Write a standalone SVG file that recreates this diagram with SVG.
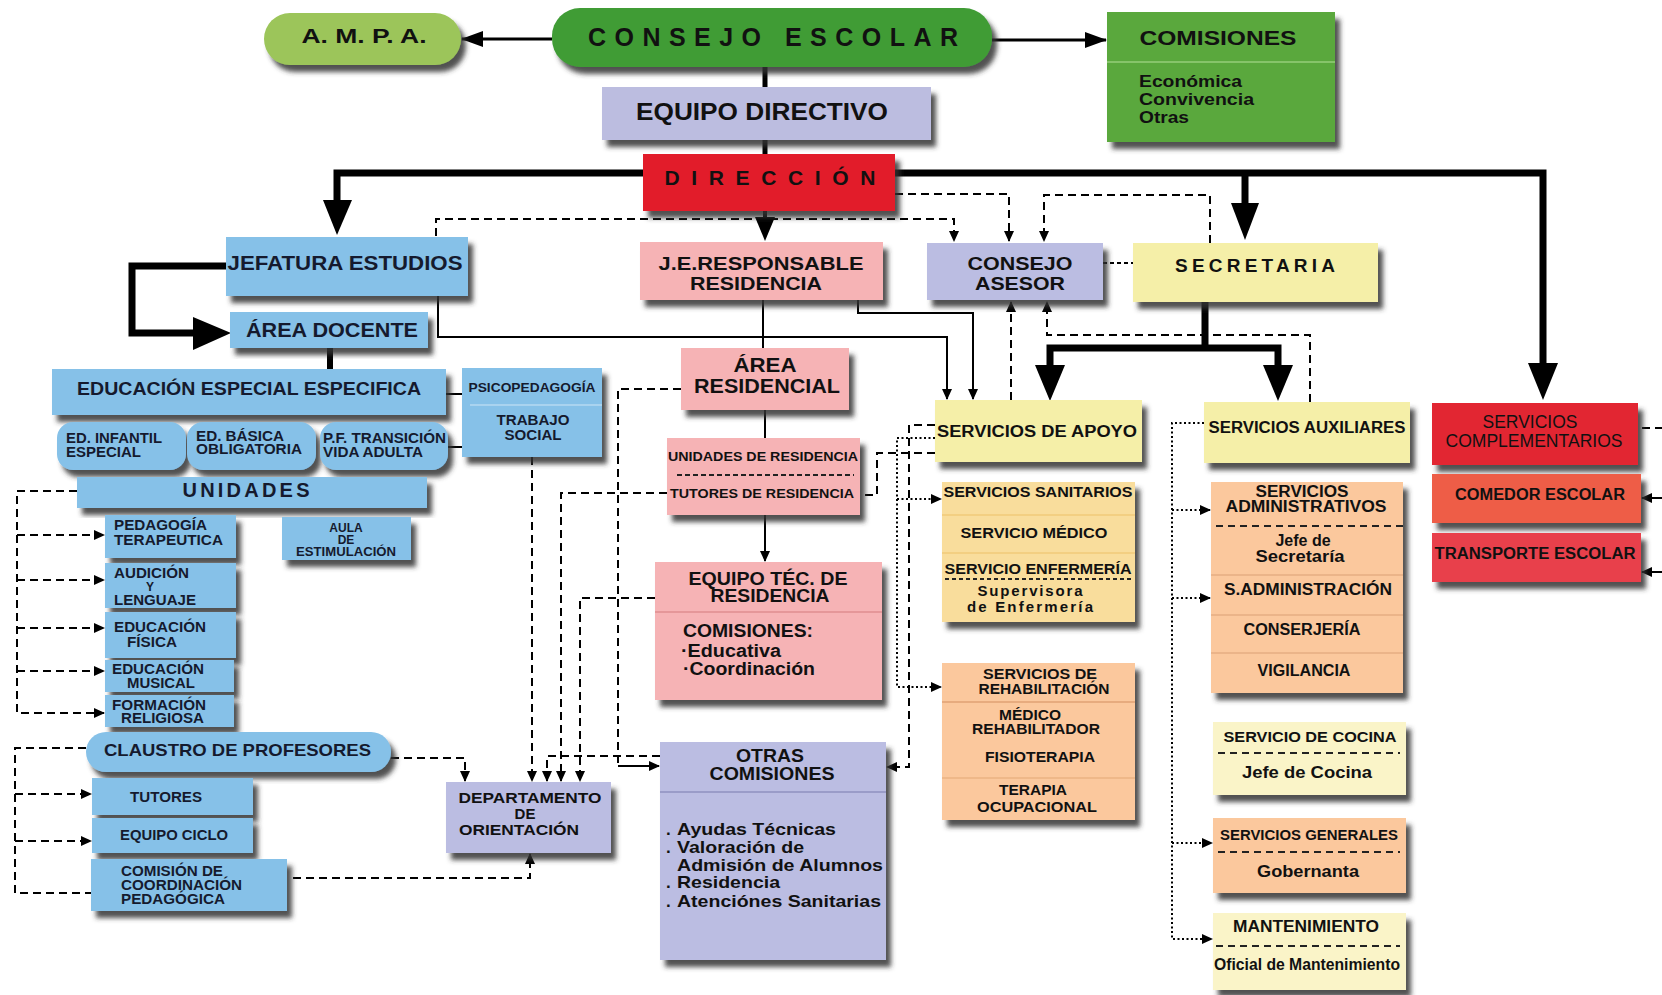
<svg xmlns="http://www.w3.org/2000/svg" width="1662" height="995" viewBox="0 0 1662 995">
<style>
text { font-family: "Liberation Sans", Arial, Helvetica, sans-serif; font-weight: bold; fill: #111; text-anchor: middle; }
.l { text-anchor: start; }
.n { font-weight: normal; }
.bt { fill: #151a2e; }
.sh { filter: url(#shadow); }
.thick { stroke: #000; stroke-width: 7; fill: none; stroke-linejoin: miter; }
.thin { stroke: #000; stroke-width: 2; fill: none; }
.dash { stroke: #000; stroke-width: 2; fill: none; stroke-dasharray: 8 5; }
.dot { stroke: #000; stroke-width: 2; fill: none; stroke-dasharray: 2 2.5; }
.div { stroke-width: 2; fill: none; }
.idash { stroke: #222; stroke-width: 2; stroke-dasharray: 7 5; fill: none; }
.blue { fill: #86c1e8; }
.pink { fill: #f6b3b5; }
.lav { fill: #bbbde2; }
.yel { fill: #f5efa8; }
.san { fill: #f9dd9c; }
.pea { fill: #fbc89d; }
.pale { fill: #faf4c8; }
</style>
<defs>
<filter id="shadow" x="-10%" y="-15%" width="125%" height="145%">
<feDropShadow dx="5" dy="7" stdDeviation="2.5" flood-color="#333" flood-opacity="0.85"/>
</filter>
<marker id="ar" markerUnits="userSpaceOnUse" markerWidth="11" markerHeight="10" refX="10" refY="5" orient="auto">
<path d="M0,0 L11,5 L0,10 z" fill="#000"/>
</marker>
<marker id="arB" markerUnits="userSpaceOnUse" markerWidth="22" markerHeight="16" refX="21" refY="8" orient="auto">
<path d="M0,0 L22,8 L0,16 z" fill="#000"/>
</marker>
</defs>

<g id="connectors">
<path class="thick" d="M337 205 V173 H1543 V370"/>
<polygon points="323,200 352,200 337,235"/>
<polygon points="1528,363 1558,363 1543,400"/>
<path class="thick" d="M1245 173 V208"/>
<polygon points="1231,203 1259,203 1245,240"/>
<path class="thick" d="M226 266 H132 V333 H196"/>
<polygon points="193,317 193,350 231,333"/>
<path class="thick" d="M330 348 V369" style="stroke-width:6"/>
<path class="thick" d="M1205 302 V348 M1050 370 V348 H1278 V370"/>
<polygon points="1035,365 1065,365 1050,401"/>
<polygon points="1263,365 1293,365 1278,401"/>
<path class="thick" d="M765 67 V154" style="stroke-width:5"/>
<path class="thick" d="M765 211 V222" style="stroke-width:4"/>
<polygon points="755,217 775,217 765,241"/>
<path class="thin" d="M552 39 H462" style="stroke-width:3" marker-end="url(#arB)"/>
<path class="thin" d="M992 40 H1106" style="stroke-width:3" marker-end="url(#arB)"/>
<path class="thin" d="M438 296 V337 H947 V399" marker-end="url(#ar)"/>
<path class="thin" d="M858 300 V313 H973 V399" marker-end="url(#ar)"/>
<path class="thin" d="M763 300 V348"/>
<path class="thin" d="M765 410 V438"/>
<path class="thin" d="M765 515 V561" marker-end="url(#ar)"/>
<path class="thin" d="M446 394 H462 M448 447 H462"/>
<path class="thin" d="M618 766 H659" marker-end="url(#ar)"/>
<path class="dash" d="M436 236 V219 H954 V241" marker-end="url(#ar)"/>
<path class="dash" d="M895 194 H1009 V241" marker-end="url(#ar)"/>
<path class="dash" d="M1210 243 V195 H1044 V241" marker-end="url(#ar)"/>
<path class="dash" d="M1103 263 H1133" style="stroke-dasharray:4 3"/>
<path class="dash" d="M1011 400 V302" marker-end="url(#ar)"/>
<path class="dash" d="M1310 402 V335 H1047 V302" marker-end="url(#ar)"/>
<path class="dash" d="M681 389 H618 V766"/>
<path class="dash" d="M660 756 H547 V781" marker-end="url(#ar)"/>
<path class="dash" d="M667 493 H561 V781" marker-end="url(#ar)"/>
<path class="dash" d="M655 598 H580 V781" marker-end="url(#ar)"/>
<path class="dash" d="M532 457 V781" marker-end="url(#ar)"/>
<path class="dash" d="M391 758 H465 V781" marker-end="url(#ar)"/>
<path class="dash" d="M293 878 H530 V854" marker-end="url(#ar)"/>
<path class="dash" d="M77 491 H17 V713 H104" marker-end="url(#ar)"/>
<path class="dash" d="M17 535 H104" marker-end="url(#ar)"/>
<path class="dash" d="M17 580 H104" marker-end="url(#ar)"/>
<path class="dash" d="M17 628 H104" marker-end="url(#ar)"/>
<path class="dash" d="M17 671 H104" marker-end="url(#ar)"/>
<path class="dash" d="M86 748 H15 V893 H91"/>
<path class="dash" d="M15 794 H91" marker-end="url(#ar)"/>
<path class="dash" d="M15 841 H91" marker-end="url(#ar)"/>
<path class="dash" d="M935 425 H909 V767 H887" marker-end="url(#ar)"/>
<path class="dash" d="M935 453 H877 V495 H860"/>
<path class="dash" d="M1642 428 H1662"/>
<path class="thin" d="M1662 498 H1642" marker-end="url(#ar)"/>
<path class="thin" d="M1662 572 H1642" marker-end="url(#ar)"/>
<path class="dot" d="M935 438 H897 V687 H941" marker-end="url(#ar)"/>
<path class="dot" d="M897 499 H941" marker-end="url(#ar)"/>
<path class="dot" d="M1204 423 H1172 V939 H1212" marker-end="url(#ar)"/>
<path class="dot" d="M1172 510 H1210" marker-end="url(#ar)"/>
<path class="dot" d="M1172 598 H1210" marker-end="url(#ar)"/>
<path class="dot" d="M1172 843 H1212" marker-end="url(#ar)"/>
</g>

<g id="ampa"><rect class="sh" x="264" y="13" width="197" height="52" rx="26" fill="#9cc55a"/><text x="364" y="43" font-size="21" textLength="125" lengthAdjust="spacingAndGlyphs">A. M. P. A.</text></g>
<g id="consejo-escolar"><rect class="sh" x="552" y="8" width="440" height="59" rx="28" fill="#3f9c36"/><text x="773" y="46" font-size="25" textLength="370" lengthAdjust="spacing">CONSEJO ESCOLAR</text></g>
<g id="comisiones"><rect class="sh" x="1107" y="12" width="228" height="130" fill="#5aa83e"/><line x1="1107" y1="62" x2="1335" y2="62" stroke="#86c46a" stroke-width="2"/>
<text x="1218" y="45" font-size="21" textLength="157" lengthAdjust="spacingAndGlyphs">COMISIONES</text>
<text class="l" x="1139" y="87" font-size="16" textLength="103" lengthAdjust="spacingAndGlyphs">Económica</text>
<text class="l" x="1139" y="105" font-size="16" textLength="115" lengthAdjust="spacingAndGlyphs">Convivencia</text>
<text class="l" x="1139" y="123" font-size="16" textLength="50" lengthAdjust="spacingAndGlyphs">Otras</text></g>
<g id="equipo-directivo"><rect class="sh" x="602" y="87" width="329" height="53" fill="#bcbde0"/><text x="762" y="120" font-size="23" textLength="252" lengthAdjust="spacingAndGlyphs">EQUIPO DIRECTIVO</text></g>
<g id="direccion"><rect class="sh" x="643" y="154" width="252" height="57" fill="#e21f2b"/><text x="770" y="185" font-size="21" textLength="211" lengthAdjust="spacing">DIRECCIÓN</text></g>

<g id="jefatura"><rect class="sh blue" x="226" y="237" width="242" height="59"/><text class="bt" x="345" y="270" font-size="20" textLength="235" lengthAdjust="spacingAndGlyphs">JEFATURA  ESTUDIOS</text></g>
<g id="je-residencia"><rect class="sh pink" x="640" y="242" width="243" height="58"/><text x="761" y="270" font-size="19" textLength="205" lengthAdjust="spacingAndGlyphs">J.E.RESPONSABLE</text><text x="756" y="290" font-size="19" textLength="132" lengthAdjust="spacingAndGlyphs">RESIDENCIA</text></g>
<g id="consejo-asesor"><rect class="sh lav" x="927" y="243" width="176" height="57"/><text x="1020" y="270" font-size="19" textLength="105" lengthAdjust="spacingAndGlyphs">CONSEJO</text><text x="1020" y="290" font-size="19" textLength="90" lengthAdjust="spacingAndGlyphs">ASESOR</text></g>
<g id="secretaria"><rect class="sh yel" x="1133" y="243" width="245" height="59"/><text x="1255" y="272" font-size="19" textLength="160" lengthAdjust="spacing">SECRETARIA</text></g>

<g id="area-docente"><rect class="sh blue" x="230" y="312" width="198" height="36"/><text class="bt" x="332" y="337" font-size="20" textLength="172" lengthAdjust="spacingAndGlyphs">ÁREA DOCENTE</text></g>
<g id="educacion-especial"><rect class="sh blue" x="52" y="369" width="394" height="46"/><text class="bt" x="249" y="395" font-size="18" textLength="344" lengthAdjust="spacingAndGlyphs">EDUCACIÓN ESPECIAL ESPECIFICA</text></g>
<g id="ed-infantil"><rect class="sh blue" x="57" y="422" width="129" height="48" rx="16"/><text class="l bt" x="66" y="443" font-size="14" textLength="96" lengthAdjust="spacingAndGlyphs">ED. INFANTIL</text><text class="l bt" x="66" y="457" font-size="14" textLength="75" lengthAdjust="spacingAndGlyphs">ESPECIAL</text></g>
<g id="ed-basica"><rect class="sh blue" x="187" y="422" width="129" height="48" rx="16"/><text class="l bt" x="196" y="441" font-size="14" textLength="88" lengthAdjust="spacingAndGlyphs">ED. BÁSICA</text><text class="l bt" x="196" y="454" font-size="14" textLength="106" lengthAdjust="spacingAndGlyphs">OBLIGATORIA</text></g>
<g id="pf-transicion"><rect class="sh blue" x="320" y="422" width="128" height="48" rx="16"/><text class="l bt" x="323" y="443" font-size="14" textLength="123" lengthAdjust="spacingAndGlyphs">P.F. TRANSICIÓN</text><text class="l bt" x="323" y="457" font-size="14" textLength="100" lengthAdjust="spacingAndGlyphs">VIDA ADULTA</text></g>
<g id="psicopedagogia"><rect class="sh blue" x="462" y="368" width="140" height="89"/><line x1="470" y1="405" x2="602" y2="405" stroke="#a9d3ef" stroke-width="2"/><text class="bt" x="532" y="392" font-size="12" textLength="127" lengthAdjust="spacingAndGlyphs">PSICOPEDAGOGÍA</text><text class="bt" x="533" y="425" font-size="14" textLength="73" lengthAdjust="spacingAndGlyphs">TRABAJO</text><text class="bt" x="533" y="440" font-size="14" textLength="57" lengthAdjust="spacingAndGlyphs">SOCIAL</text></g>
<g id="unidades"><rect class="sh blue" x="77" y="477" width="350" height="31"/><text class="bt" x="246" y="497" font-size="20" textLength="127" lengthAdjust="spacing">UNIDADES</text></g>
<g id="pedagogia"><rect class="sh blue" x="105" y="515" width="131" height="43"/><text class="l bt" x="114" y="530" font-size="14" textLength="93" lengthAdjust="spacingAndGlyphs">PEDAGOGÍA</text><text class="l bt" x="114" y="545" font-size="14" textLength="109" lengthAdjust="spacingAndGlyphs">TERAPEUTICA</text></g>
<g id="audicion"><rect class="sh blue" x="105" y="563" width="131" height="45"/><text class="l bt" x="114" y="578" font-size="14" textLength="75" lengthAdjust="spacingAndGlyphs">AUDICIÓN</text><text class="bt" x="150" y="591" font-size="12">Y</text><text class="l bt" x="114" y="605" font-size="14" textLength="82" lengthAdjust="spacingAndGlyphs">LENGUAJE</text></g>
<g id="ed-fisica"><rect class="sh blue" x="105" y="612" width="131" height="46"/><text class="l bt" x="114" y="632" font-size="14" textLength="92" lengthAdjust="spacingAndGlyphs">EDUCACIÓN</text><text class="l bt" x="127" y="647" font-size="14" textLength="50" lengthAdjust="spacingAndGlyphs">FÍSICA</text></g>
<g id="ed-musical"><rect class="sh blue" x="105" y="660" width="129" height="32"/><text class="l bt" x="112" y="674" font-size="14" textLength="92" lengthAdjust="spacingAndGlyphs">EDUCACIÓN</text><text class="l bt" x="127" y="688" font-size="14" textLength="68" lengthAdjust="spacingAndGlyphs">MUSICAL</text></g>
<g id="formacion"><rect class="sh blue" x="105" y="695" width="129" height="32"/><text class="l bt" x="112" y="710" font-size="14" textLength="94" lengthAdjust="spacingAndGlyphs">FORMACIÓN</text><text class="l bt" x="121" y="723" font-size="14" textLength="83" lengthAdjust="spacingAndGlyphs">RELIGIOSA</text></g>
<g id="aula"><rect class="sh blue" x="282" y="517" width="129" height="43"/><text class="bt" x="346" y="532" font-size="12">AULA</text><text class="bt" x="346" y="544" font-size="12">DE</text><text class="bt" x="346" y="556" font-size="12" textLength="100" lengthAdjust="spacingAndGlyphs">ESTIMULACIÓN</text></g>
<g id="claustro"><rect class="sh blue" x="86" y="732" width="305" height="40" rx="20"/><text class="l bt" x="104" y="756" font-size="17" textLength="267" lengthAdjust="spacingAndGlyphs">CLAUSTRO DE PROFESORES</text></g>
<g id="tutores"><rect class="sh blue" x="92" y="778" width="161" height="37"/><text class="bt" x="166" y="802" font-size="14" textLength="72" lengthAdjust="spacingAndGlyphs">TUTORES</text></g>
<g id="equipo-ciclo"><rect class="sh blue" x="92" y="818" width="161" height="35"/><text class="bt" x="174" y="840" font-size="14" textLength="108" lengthAdjust="spacingAndGlyphs">EQUIPO CICLO</text></g>
<g id="comision-coordinacion"><rect class="sh blue" x="91" y="859" width="196" height="52"/><text class="l bt" x="121" y="876" font-size="14" textLength="102" lengthAdjust="spacingAndGlyphs">COMISIÓN DE</text><text class="l bt" x="121" y="890" font-size="14" textLength="121" lengthAdjust="spacingAndGlyphs">COORDINACIÓN</text><text class="l bt" x="121" y="904" font-size="14" textLength="104" lengthAdjust="spacingAndGlyphs">PEDAGÓGICA</text></g>
<g id="departamento"><rect class="sh lav" x="446" y="782" width="165" height="71"/><text x="530" y="803" font-size="15" textLength="143" lengthAdjust="spacingAndGlyphs">DEPARTAMENTO</text><text x="525" y="819" font-size="15">DE</text><text x="519" y="835" font-size="15" textLength="120" lengthAdjust="spacingAndGlyphs">ORIENTACIÓN</text></g>

<g id="area-residencial"><rect class="sh pink" x="681" y="348" width="168" height="62"/><text x="765" y="372" font-size="20" textLength="63" lengthAdjust="spacingAndGlyphs">ÁREA</text><text x="767" y="393" font-size="20" textLength="146" lengthAdjust="spacingAndGlyphs">RESIDENCIAL</text></g>
<g id="unidades-residencia"><rect class="sh pink" x="667" y="438" width="193" height="77"/><text x="763" y="461" font-size="13" textLength="190" lengthAdjust="spacingAndGlyphs">UNIDADES DE RESIDENCIA</text><line class="idash" x1="677" y1="475" x2="854" y2="475" style="stroke-dasharray:5 3"/><text x="762" y="498" font-size="13" textLength="184" lengthAdjust="spacingAndGlyphs">TUTORES DE RESIDENCIA</text></g>
<g id="equipo-tec"><rect class="sh pink" x="655" y="562" width="227" height="138"/><line x1="655" y1="612" x2="882" y2="612" stroke="#e59799" stroke-width="2"/><text x="768" y="585" font-size="18" textLength="159" lengthAdjust="spacingAndGlyphs">EQUIPO TÉC. DE</text><text x="770" y="602" font-size="18" textLength="119" lengthAdjust="spacingAndGlyphs">RESIDENCIA</text><text class="l" x="683" y="637" font-size="18" textLength="130" lengthAdjust="spacingAndGlyphs">COMISIONES:</text><text class="l" x="681" y="657" font-size="18" textLength="100" lengthAdjust="spacingAndGlyphs">·Educativa</text><text class="l" x="683" y="675" font-size="18" textLength="132" lengthAdjust="spacingAndGlyphs">·Coordinación</text></g>
<g id="otras-comisiones"><rect class="sh lav" x="660" y="742" width="226" height="218"/><line x1="660" y1="792" x2="886" y2="792" stroke="#9a9cc8" stroke-width="2"/><text x="770" y="762" font-size="18" textLength="68" lengthAdjust="spacingAndGlyphs">OTRAS</text><text x="772" y="780" font-size="18" textLength="125" lengthAdjust="spacingAndGlyphs">COMISIONES</text>
<text class="l" x="666" y="835" font-size="17">.</text><text class="l" x="677" y="835" font-size="17" textLength="159" lengthAdjust="spacingAndGlyphs">Ayudas Técnicas</text>
<text class="l" x="666" y="853" font-size="17">.</text><text class="l" x="677" y="853" font-size="17" textLength="127" lengthAdjust="spacingAndGlyphs">Valoración de</text>
<text class="l" x="677" y="871" font-size="17" textLength="206" lengthAdjust="spacingAndGlyphs">Admisión de Alumnos</text>
<text class="l" x="666" y="888" font-size="17">.</text><text class="l" x="677" y="888" font-size="17" textLength="103" lengthAdjust="spacingAndGlyphs">Residencia</text>
<text class="l" x="666" y="907" font-size="17">.</text><text class="l" x="677" y="907" font-size="17" textLength="204" lengthAdjust="spacingAndGlyphs">Atenciónes Sanitarias</text></g>

<g id="servicios-apoyo"><rect class="sh yel" x="935" y="400" width="207" height="62"/><text class="l" x="937" y="437" font-size="16" textLength="200" lengthAdjust="spacingAndGlyphs">SERVICIOS DE   APOYO</text></g>
<g id="servicios-sanitarios"><rect class="sh san" x="942" y="482" width="193" height="140"/><line class="div" x1="942" y1="515" x2="1135" y2="515" stroke="#f3cf82"/><line class="div" x1="942" y1="553" x2="1135" y2="553" stroke="#f3cf82"/><line class="idash" x1="945" y1="579" x2="1132" y2="579" style="stroke-dasharray:4 3"/>
<text x="1038" y="497" font-size="15" textLength="189" lengthAdjust="spacingAndGlyphs">SERVICIOS SANITARIOS</text>
<text x="1034" y="538" font-size="15" textLength="147" lengthAdjust="spacingAndGlyphs">SERVICIO MÉDICO</text>
<text x="1038" y="574" font-size="15" textLength="187" lengthAdjust="spacingAndGlyphs">SERVICIO ENFERMERÍA</text>
<text x="1030" y="596" font-size="15" textLength="105" lengthAdjust="spacing">Supervisora</text>
<text x="1030" y="612" font-size="15" textLength="126" lengthAdjust="spacing">de  Enfermería</text></g>
<g id="servicios-rehabilitacion"><rect class="sh pea" x="942" y="663" width="193" height="157"/><line class="div" x1="942" y1="702" x2="1135" y2="702" stroke="#e7ab7e"/><line class="div" x1="942" y1="778" x2="1135" y2="778" stroke="#efb889"/>
<text x="1040" y="679" font-size="14" textLength="114" lengthAdjust="spacingAndGlyphs">SERVICIOS DE</text>
<text x="1044" y="694" font-size="14" textLength="131" lengthAdjust="spacingAndGlyphs">REHABILITACIÓN</text>
<text x="1030" y="720" font-size="14" textLength="62" lengthAdjust="spacingAndGlyphs">MÉDICO</text>
<text x="1036" y="734" font-size="14" textLength="128" lengthAdjust="spacingAndGlyphs">REHABILITADOR</text>
<text x="1040" y="762" font-size="15" textLength="110" lengthAdjust="spacingAndGlyphs">FISIOTERAPIA</text>
<text x="1033" y="795" font-size="14" textLength="68" lengthAdjust="spacingAndGlyphs">TERAPIA</text>
<text x="1037" y="812" font-size="14" textLength="120" lengthAdjust="spacingAndGlyphs">OCUPACIONAL</text></g>

<g id="servicios-auxiliares"><rect class="sh yel" x="1204" y="402" width="206" height="61"/><text x="1307" y="433" font-size="16" textLength="197" lengthAdjust="spacingAndGlyphs">SERVICIOS AUXILIARES</text></g>
<g id="servicios-administrativos"><rect class="sh pea" x="1211" y="482" width="192" height="211"/><line class="idash" x1="1216" y1="526" x2="1403" y2="526"/><line class="div" x1="1211" y1="575" x2="1403" y2="575" stroke="#ebb489"/><line class="div" x1="1211" y1="615" x2="1403" y2="615" stroke="#ebb489"/><line class="div" x1="1211" y1="653" x2="1403" y2="653" stroke="#ebb489"/>
<text x="1302" y="497" font-size="16" textLength="93" lengthAdjust="spacingAndGlyphs">SERVICIOS</text>
<text x="1306" y="512" font-size="16" textLength="161" lengthAdjust="spacingAndGlyphs">ADMINISTRATIVOS</text>
<text x="1303" y="546" font-size="16">Jefe de</text>
<text x="1300" y="562" font-size="16" textLength="89" lengthAdjust="spacingAndGlyphs">Secretaría</text>
<text x="1308" y="595" font-size="16" textLength="168" lengthAdjust="spacingAndGlyphs">S.ADMINISTRACIÓN</text>
<text x="1302" y="635" font-size="16" textLength="117" lengthAdjust="spacingAndGlyphs">CONSERJERÍA</text>
<text x="1304" y="676" font-size="16" textLength="93" lengthAdjust="spacingAndGlyphs">VIGILANCIA</text></g>
<g id="servicio-cocina"><rect class="sh pale" x="1213" y="722" width="193" height="73"/><line class="idash" x1="1218" y1="753" x2="1400" y2="753"/><text x="1310" y="742" font-size="15" textLength="173" lengthAdjust="spacingAndGlyphs">SERVICIO DE COCINA</text><text x="1307" y="778" font-size="16" textLength="130" lengthAdjust="spacingAndGlyphs">Jefe de Cocina</text></g>
<g id="servicios-generales"><rect class="sh pea" x="1213" y="818" width="193" height="75"/><line class="idash" x1="1218" y1="852" x2="1400" y2="852"/><text x="1309" y="840" font-size="15" textLength="178" lengthAdjust="spacingAndGlyphs">SERVICIOS GENERALES</text><text x="1308" y="877" font-size="16" textLength="102" lengthAdjust="spacingAndGlyphs">Gobernanta</text></g>
<g id="mantenimiento"><rect class="sh pale" x="1213" y="913" width="193" height="77"/><line class="idash" x1="1216" y1="946" x2="1400" y2="946"/><text x="1306" y="932" font-size="16" textLength="146" lengthAdjust="spacingAndGlyphs">MANTENIMIENTO</text><text x="1307" y="970" font-size="16" textLength="186" lengthAdjust="spacingAndGlyphs">Oficial de Mantenimiento</text></g>

<g id="servicios-complementarios"><rect class="sh" x="1432" y="403" width="206" height="62" fill="#e22631"/><text class="n" x="1530" y="428" font-size="18" textLength="95" lengthAdjust="spacingAndGlyphs">SERVICIOS</text><text class="n" x="1534" y="447" font-size="18" textLength="177" lengthAdjust="spacingAndGlyphs">COMPLEMENTARIOS</text></g>
<g id="comedor"><rect class="sh" x="1432" y="474" width="209" height="49" fill="#ee5d47"/><text x="1540" y="500" font-size="16" textLength="170" lengthAdjust="spacingAndGlyphs">COMEDOR ESCOLAR</text></g>
<g id="transporte"><rect class="sh" x="1432" y="533" width="209" height="49" fill="#e8404b"/><text x="1535" y="559" font-size="16" textLength="201" lengthAdjust="spacingAndGlyphs">TRANSPORTE  ESCOLAR</text></g>
</svg>
